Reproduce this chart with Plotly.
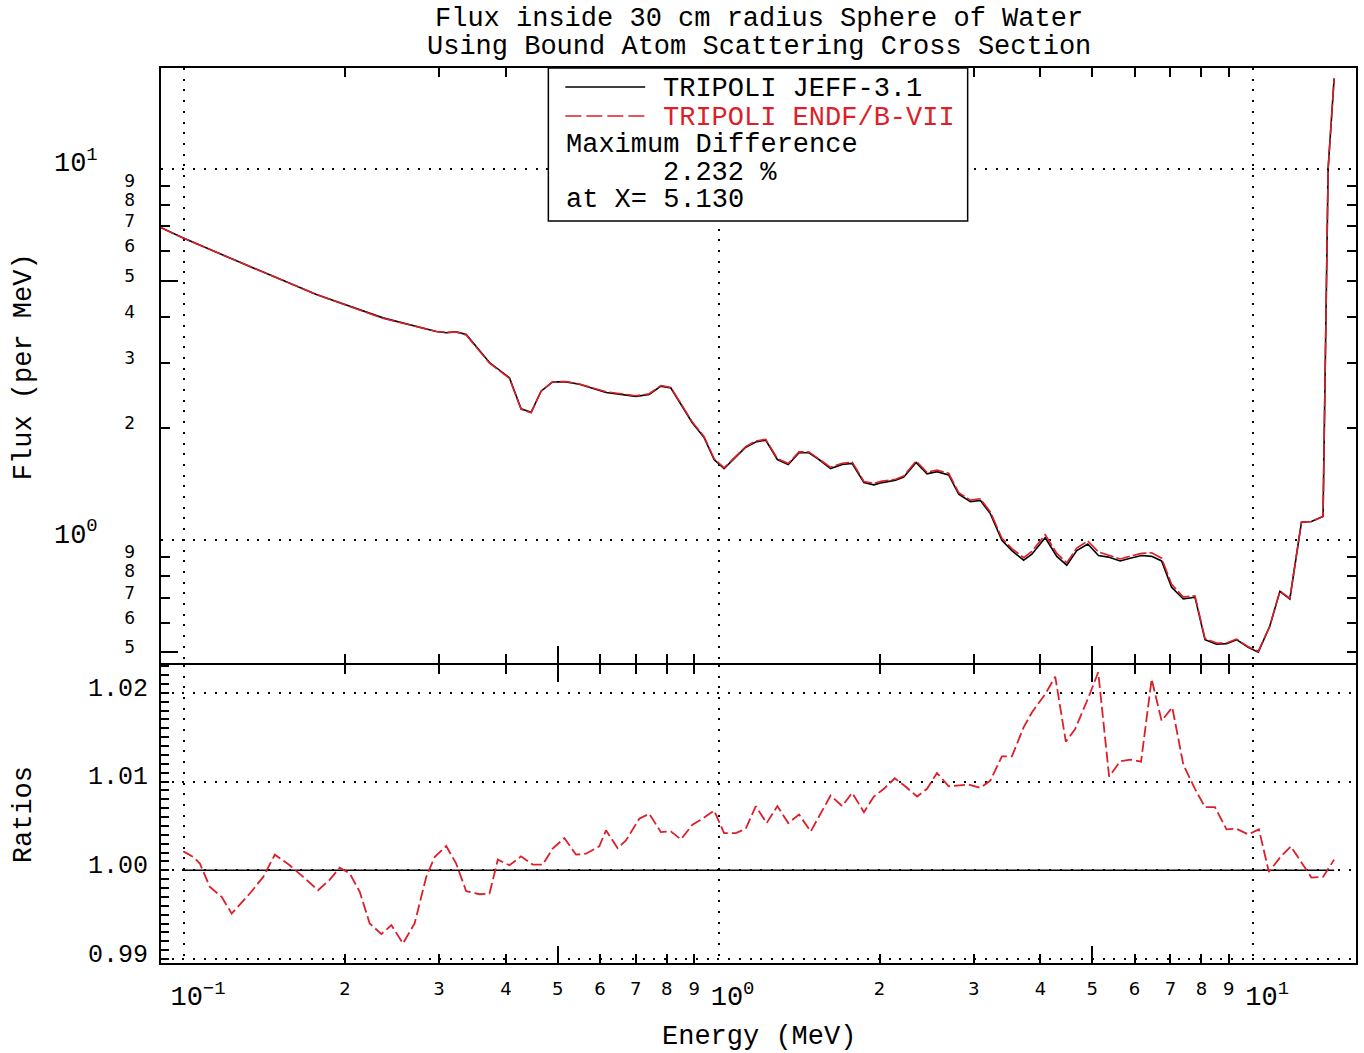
import plotly.graph_objects as go

# ---------------- data ----------------
energy_flux = [0.0906, 0.0997, 0.1328, 0.1769, 0.2356, 0.2964, 0.3094, 0.3230, 0.3372, 0.3728,
               0.4062, 0.4271, 0.4460, 0.4656, 0.4894, 0.5184, 0.5490, 0.6158, 0.7004, 0.7416,
               0.7800, 0.8141, 0.8935, 0.9396, 0.9808, 1.024, 1.124, 1.174, 1.225, 1.288,
               1.350, 1.414, 1.476, 1.541, 1.620, 1.703, 1.778, 1.870, 1.952, 2.023,
               2.143, 2.220, 2.341, 2.454, 2.562, 2.694, 2.813, 2.958, 3.088, 3.223,
               3.388, 3.537, 3.720, 3.855, 4.083, 4.292, 4.480, 4.677, 4.905, 5.136,
               5.361, 5.638, 5.886, 6.186, 6.457, 6.740, 7.037, 7.401, 7.782, 8.125,
               8.540, 8.915, 9.308, 9.786, 10.22, 10.74, 11.22, 11.71, 12.31, 12.85,
               13.51, 13.81, 14.17]

flux_jeff = [6.94, 6.51, 5.46, 4.59, 3.97, 3.65, 3.62, 3.64, 3.58, 3.01,
             2.74, 2.26, 2.21, 2.52, 2.67, 2.67, 2.63, 2.50, 2.44, 2.47,
             2.60, 2.57, 2.07, 1.89, 1.65, 1.56, 1.78, 1.84, 1.86, 1.65,
             1.60, 1.72, 1.72, 1.65, 1.56, 1.60, 1.61, 1.43, 1.41, 1.43,
             1.45, 1.48, 1.62, 1.51, 1.53, 1.50, 1.33, 1.27, 1.28, 1.18,
             1.00, 0.938, 0.884, 0.917, 1.016, 0.905, 0.857, 0.938, 0.977, 0.910,
             0.901, 0.880, 0.895, 0.910, 0.905, 0.880, 0.747, 0.695, 0.703, 0.540,
             0.525, 0.527, 0.540, 0.515, 0.500, 0.587, 0.729, 0.695, 1.118, 1.124,
             1.159, 10.02, 17.50]

flux_endf = [6.94, 6.51, 5.46, 4.59, 3.96, 3.65, 3.63, 3.64, 3.57, 3.00,
             2.73, 2.255, 2.205, 2.52, 2.672, 2.675, 2.635, 2.51, 2.45, 2.48,
             2.61, 2.58, 2.08, 1.90, 1.66, 1.567, 1.788, 1.851, 1.870, 1.660,
             1.609, 1.731, 1.729, 1.658, 1.572, 1.612, 1.624, 1.440, 1.423, 1.443,
             1.460, 1.490, 1.635, 1.525, 1.545, 1.515, 1.343, 1.283, 1.293, 1.193,
             1.013, 0.950, 0.898, 0.933, 1.036, 0.922, 0.870, 0.953, 0.996, 0.930,
             0.911, 0.891, 0.906, 0.922, 0.925, 0.895, 0.761, 0.703, 0.709, 0.544,
             0.529, 0.529, 0.542, 0.517, 0.502, 0.587, 0.730, 0.697, 1.119, 1.123,
             1.160, 10.02, 17.50]

energy_ratio = [0.0997, 0.1041, 0.1071, 0.1118, 0.1176, 0.1228, 0.1328, 0.1407, 0.1479, 0.1577,
                0.1671, 0.1782, 0.1874, 0.1956, 0.2042, 0.2132, 0.2225, 0.2340, 0.2443, 0.2568,
                0.2700, 0.2839, 0.2943, 0.3094, 0.3230, 0.3372, 0.3571, 0.3728, 0.3864, 0.4062,
                0.4271, 0.4491, 0.4688, 0.4894, 0.5146, 0.5412, 0.5649, 0.5981, 0.6158, 0.6471,
                0.6710, 0.7105, 0.7416, 0.7800, 0.8141, 0.8500, 0.8935, 0.9327, 0.9808, 1.024,
                1.077, 1.124, 1.174, 1.230, 1.288, 1.350, 1.414, 1.487, 1.620, 1.703,
                1.778, 1.870, 1.952, 2.038, 2.136, 2.237, 2.351, 2.454, 2.562, 2.694,
                2.936, 3.088, 3.223, 3.388, 3.537, 3.720, 3.855, 4.083, 4.263, 4.462,
                4.645, 4.919, 5.130, 5.377, 5.638, 5.886, 6.170, 6.457, 6.740, 7.058,
                7.401, 7.782, 8.125, 8.483, 8.915, 9.308, 9.786, 10.25, 10.70, 11.22,
                11.76, 12.31, 12.85, 13.51, 14.17]

ratio = [1.00213, 1.00150, 1.00075, 0.99813, 0.99700, 0.99513, 0.99738, 0.99925, 1.00176, 1.00056,
         0.99925, 0.99775, 0.99895, 1.00030, 0.99963, 0.99757, 0.99401, 0.99281, 0.99382, 0.99176,
         0.99401, 0.99925, 1.00150, 1.00273, 1.00075, 0.99764, 0.99730, 0.99738, 1.00120, 1.00056,
         1.00157, 1.00064, 1.00064, 1.00244, 1.00363, 1.00176, 1.00187, 1.00270, 1.00450, 1.00250,
         1.00337, 1.00581, 1.00637, 1.00430, 1.00438, 1.00348, 1.00513, 1.00581, 1.00674, 1.00419,
         1.00419, 1.00468, 1.00723, 1.00532, 1.00723, 1.00532, 1.00629, 1.00438, 1.00843, 1.00723,
         1.00873, 1.00655, 1.00831, 1.00918, 1.01037, 1.00944, 1.00831, 1.00918, 1.01097, 1.00947,
         1.00966, 1.00929, 1.01011, 1.01284, 1.01284, 1.01610, 1.01779, 1.01985, 1.02183, 1.01449,
         1.01592, 1.01948, 1.02232, 1.01056, 1.01228, 1.01247, 1.01225, 1.02154, 1.01685, 1.01835,
         1.01191, 1.00918, 1.00711, 1.00711, 1.00461, 1.00468, 1.00404, 1.00461, 0.99981, 1.00143,
         1.00270, 1.00093, 0.99918, 0.99925, 1.00120]

x_major_vals = [0.1, 1, 10]
x_major_text = ["10<sup>\u22121</sup>", "10<sup>0</sup>", "10<sup>1</sup>"]
x_minor_vals = [0.2, 0.3, 0.4, 0.5, 0.6, 0.7, 0.8, 0.9, 2, 3, 4, 5, 6, 7, 8, 9]
x_minor_text = ["2", "3", "4", "5", "6", "7", "8", "9", "2", "3", "4", "5", "6", "7", "8", "9"]
x_half_vals = [0.5, 5]

y_major_vals = [1, 10]
y_major_text = ["10<sup>0</sup>", "10<sup>1</sup>"]
y_minor_vals = [0.5, 0.6, 0.7, 0.8, 0.9, 2, 3, 4, 5, 6, 7, 8, 9]
y_minor_text = ["5", "6", "7", "8", "9", "2", "3", "4", "5", "6", "7", "8", "9"]
y_half_vals = [0.5, 5]

ratio_tick_vals = [0.99, 1.00, 1.01, 1.02]
ratio_tick_text = ["0.99", "1.00", "1.01", "1.02"]

title_lines = ["Flux inside 30 cm radius Sphere of Water",
               "Using Bound Atom Scattering Cross Section"]
legend_names = ["TRIPOLI JEFF-3.1", "TRIPOLI ENDF/B-VII"]
max_diff_text = ["Maximum Difference", "2.232 %", "at X= 5.130"]

# ---------------- styling ----------------
RED = "#dc1f28"
MONO = "Liberation Mono, Courier New, monospace"
MINOR_FONT = "DejaVu Sans, Liberation Sans, sans-serif"
GRID_DASH = "2px,8.7px"
LW = 1.8

X_RANGE = [-1.0430, 1.1923]
Y_RANGE = [-0.3306, 1.2715]
R_RANGE = [0.98955, 1.02315]
SPLIT = 0.3341
HALF_LINE = (LW / 2) / 895.0

fig = go.Figure()

fig.add_trace(go.Scatter(x=energy_flux, y=flux_jeff, xaxis="x2", yaxis="y", mode="lines",
                         line=dict(color="black", width=1.6), name=legend_names[0],
                         showlegend=False))
fig.add_trace(go.Scatter(x=energy_flux, y=flux_endf, xaxis="x2", yaxis="y", mode="lines",
                         line=dict(color=RED, width=1.6, dash="14px,3px"), name=legend_names[1],
                         showlegend=False))
fig.add_trace(go.Scatter(x=[energy_ratio[0], energy_ratio[-1]], y=[1.0, 1.0], xaxis="x", yaxis="y2",
                         mode="lines", line=dict(color="black", width=1.6), showlegend=False))
fig.add_trace(go.Scatter(x=energy_ratio, y=ratio, xaxis="x", yaxis="y2", mode="lines",
                         line=dict(color=RED, width=1.8, dash="11px,4px"), showlegend=False))

# invisible carriers so that the overlay (minor-tick) axes get drawn
for xa, ya, xs, ys in [("x3", "y2", energy_ratio, ratio),
                       ("x4", "y", energy_flux, flux_jeff),
                       ("x2", "y3", energy_flux, flux_jeff)]:
    fig.add_trace(go.Scatter(x=xs[:1], y=ys[:1], xaxis=xa, yaxis=ya, mode="markers",
                             marker=dict(opacity=0, size=1), hoverinfo="skip", showlegend=False))

common_x = dict(type="log", range=X_RANGE, showline=True, linecolor="black", linewidth=LW,
                zeroline=False)

layout = dict(
    width=1364, height=1053,
    margin=dict(l=161, r=6, t=68, b=90),
    paper_bgcolor="white", plot_bgcolor="white",
    showlegend=False,
    xaxis=dict(**common_x, anchor="y2", domain=[0, 1], mirror="ticks",
               tickmode="array", tickvals=x_major_vals, ticktext=x_major_text,
               ticks="", showgrid=True, gridcolor="black", gridwidth=1.5, griddash=GRID_DASH,
               tickfont=dict(family=MONO, size=27, color="black"),
               ticklabelshift=14, ticklabelstandoff=8,
               minor=dict(tickmode="array", tickvals=x_half_vals, ticks="inside", ticklen=17,
                          tickwidth=1.5, tickcolor="black", showgrid=False)),
    xaxis3=dict(type="log", range=X_RANGE, overlaying="x", anchor="y2", side="bottom",
                showline=False, zeroline=False, showgrid=False, mirror="ticks",
                tickmode="array", tickvals=x_minor_vals, ticktext=x_minor_text,
                ticks="inside", ticklen=9, tickwidth=1.5, tickcolor="black",
                tickfont=dict(family=MINOR_FONT, size=18, color="black"), ticklabelstandoff=13),
    xaxis2=dict(**common_x, anchor="y", matches="x", mirror=True,
                tickmode="array", tickvals=x_major_vals, showticklabels=False,
                ticks="", showgrid=True, gridcolor="black", gridwidth=1.5, griddash=GRID_DASH,
                minor=dict(tickmode="array", tickvals=x_half_vals, ticks="inside", ticklen=17,
                           tickwidth=1.5, tickcolor="black", showgrid=False)),
    xaxis4=dict(type="log", range=X_RANGE, overlaying="x2", anchor="y", side="bottom",
                showline=False, zeroline=False, showgrid=False, mirror="ticks",
                tickmode="array", tickvals=x_minor_vals, showticklabels=False,
                ticks="inside", ticklen=9, tickwidth=1.5, tickcolor="black"),
    yaxis=dict(type="log", range=Y_RANGE, domain=[SPLIT + HALF_LINE, 1], anchor="x2",
               showline=True, linecolor="black", linewidth=LW, mirror=True, zeroline=False,
               tickmode="array", tickvals=y_major_vals, ticktext=y_major_text, ticks="",
               showgrid=True, gridcolor="black", gridwidth=1.5, griddash=GRID_DASH,
               tickfont=dict(family=MONO, size=27, color="black"),
               ticklabelshift=-7, ticklabelstandoff=56,
               minor=dict(tickmode="array", tickvals=y_half_vals, ticks="inside", ticklen=17,
                          tickwidth=1.5, tickcolor="black", showgrid=False)),
    yaxis3=dict(type="log", range=Y_RANGE, overlaying="y", anchor="x2", side="left",
                showline=False, zeroline=False, showgrid=False, mirror="ticks",
                tickmode="array", tickvals=y_minor_vals, ticktext=y_minor_text,
                ticks="inside", ticklen=9, tickwidth=1.5, tickcolor="black",
                tickfont=dict(family=MINOR_FONT, size=17, color="black"),
                ticklabelshift=-5, ticklabelstandoff=25),
    yaxis2=dict(type="linear", range=R_RANGE, domain=[0, SPLIT - HALF_LINE], anchor="x",
                showline=True, linecolor="black", linewidth=LW, mirror=True, zeroline=False,
                tickmode="array", tickvals=ratio_tick_vals, ticktext=ratio_tick_text, ticks="",
                showgrid=True, gridcolor="black", gridwidth=1.5, griddash=GRID_DASH,
                tickfont=dict(family=MONO, size=25, color="black"),
                ticklabelshift=-6, ticklabelstandoff=6,
                minor=dict(dtick=0.001, tick0=0.99, ticks="inside", ticklen=8, tickwidth=1.5,
                           tickcolor="black", showgrid=False)),
)
fig.update_layout(**layout)

# ---------------- legend box (drawn) ----------------
def px(xp):
    return (xp - 161) / 1197.0

def py(yp):
    return (963 - yp) / 895.0

fig.add_shape(type="rect", xref="paper", yref="paper", x0=px(549), x1=px(969), y0=py(221), y1=py(68),
              line=dict(color="black", width=1.5), fillcolor="white", layer="above")
fig.add_shape(type="line", xref="paper", yref="paper", x0=px(566), x1=px(646), y0=py(87), y1=py(87),
              line=dict(color="black", width=1.6), layer="above")
fig.add_shape(type="line", xref="paper", yref="paper", x0=px(566), x1=px(646), y0=py(116), y1=py(116),
              line=dict(color=RED, width=1.6, dash="16px,5px"), layer="above")

ann_font = dict(family=MONO, size=27, color="black")
annotations = [
    dict(text=legend_names[0], x=px(662), y=py(89), font=ann_font),
    dict(text=legend_names[1], x=px(662), y=py(118), font=dict(family=MONO, size=27, color=RED)),
    dict(text=max_diff_text[0], x=px(565), y=py(145), font=ann_font),
    dict(text=max_diff_text[1], x=px(662), y=py(173), font=ann_font),
    dict(text=max_diff_text[2], x=px(565), y=py(200), font=ann_font),
]
for a in annotations:
    fig.add_annotation(xref="paper", yref="paper", xanchor="left", yanchor="middle",
                       showarrow=False, **a)

# titles
fig.add_annotation(text=title_lines[0], xref="paper", yref="paper", x=0.5, y=py(19),
                   xanchor="center", yanchor="middle", showarrow=False, font=ann_font)
fig.add_annotation(text=title_lines[1], xref="paper", yref="paper", x=0.5, y=py(47),
                   xanchor="center", yanchor="middle", showarrow=False, font=ann_font)
fig.add_annotation(text="Energy (MeV)", xref="paper", yref="paper", x=0.5, y=py(1037),
                   xanchor="center", yanchor="middle", showarrow=False, font=ann_font)
fig.add_annotation(text="Flux (per MeV)", xref="paper", yref="paper", x=px(24), y=py(367),
                   xanchor="center", yanchor="middle", textangle=-90, showarrow=False, font=ann_font)
fig.add_annotation(text="Ratios", xref="paper", yref="paper", x=px(24), y=py(815),
                   xanchor="center", yanchor="middle", textangle=-90, showarrow=False, font=ann_font)

fig.write_html("out.html")
